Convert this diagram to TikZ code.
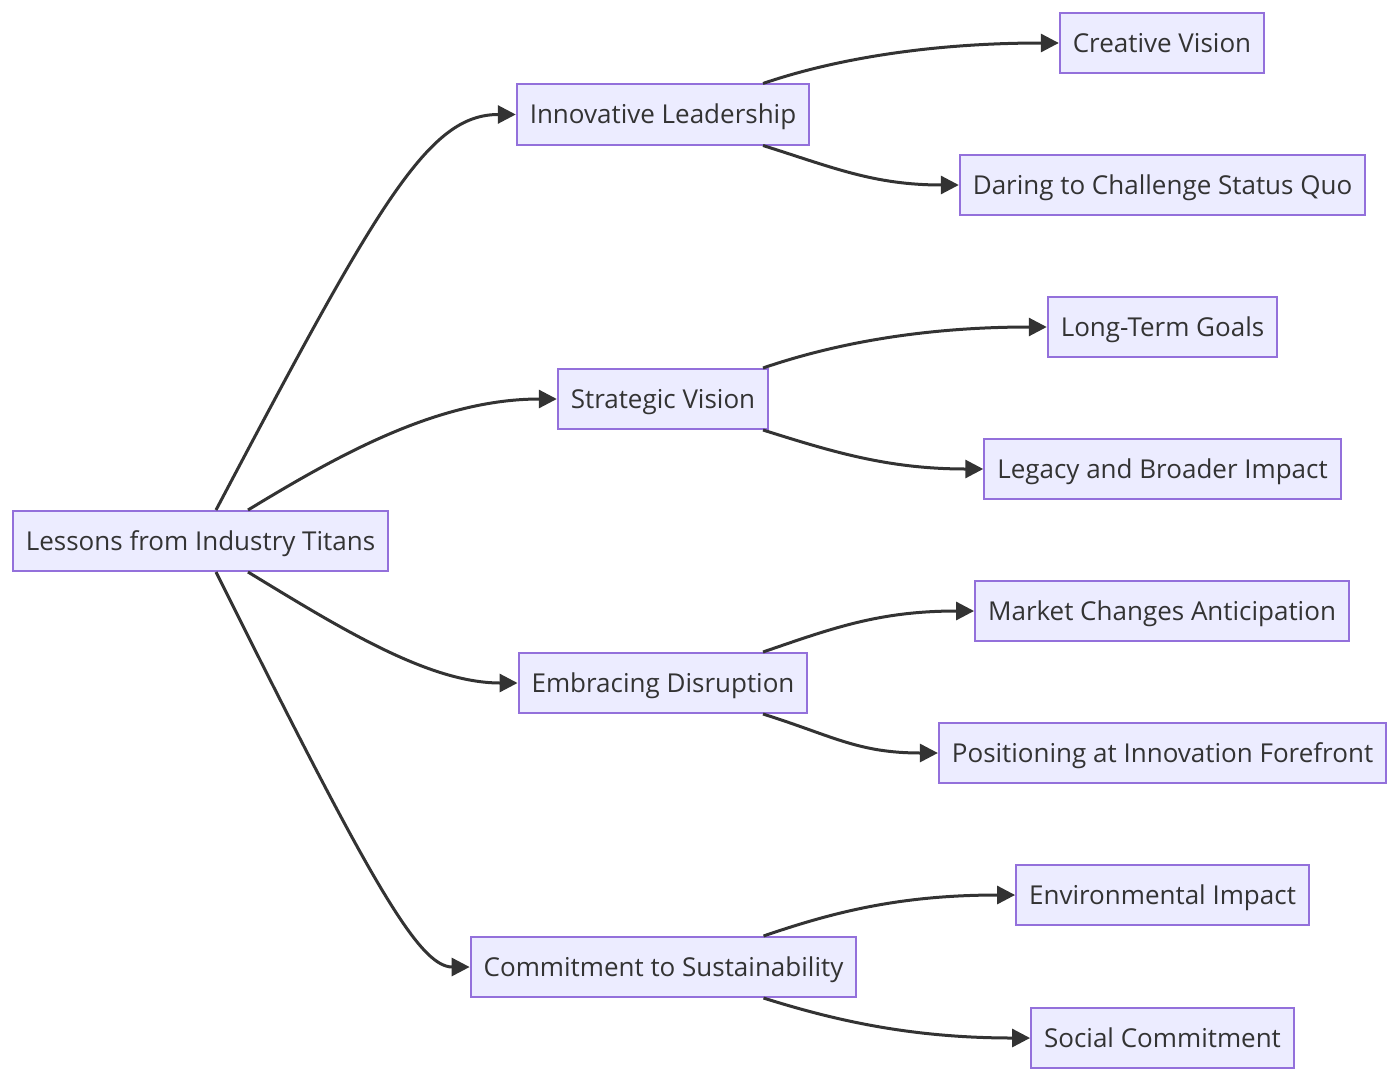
\documentclass[tikz,border=0pt]{standalone}
\usepackage{fontspec}
\setmainfont{Open Sans}
\usetikzlibrary{arrows.meta,positioning,calc}
\definecolor{boxfill}{HTML}{ECECFF}
\definecolor{boxline}{HTML}{9370DB}
\definecolor{inkgray}{HTML}{333333}
\tikzset{
  topic/.style={draw=boxline, fill=boxfill, line width=1pt, text=inkgray,
    minimum height=30pt, inner xsep=6.5pt, text height=9.3pt, text depth=0pt,
    font=\fontsize{13}{15}\selectfont},
  link/.style={draw=inkgray, line width=1.5pt, -{Triangle[length=9pt,width=9pt]}}
}

\begin{document}
\begin{tikzpicture}[x=0.5pt,y=-0.5pt]
    \useasboundingbox (0,0) rectangle (1400,1081);
    % root
    \node[topic] (titans) at (200.5,541) {Lessons from Industry Titans};
    % second level
    \node[topic] (leader)  at (663,114.5) {Innovative Leadership};
    \node[topic] (strat)   at (663,399)   {Strategic Vision};
    \node[topic] (disrupt) at (663,683)   {Embracing Disruption};
    \node[topic] (sustain) at (663.5,967) {Commitment to Sustainability};
    % leaves
    \node[topic] (creative)  at (1162,43)    {Creative Vision};
    \node[topic] (daring)    at (1162.5,185) {Daring to Challenge Status Quo};
    \node[topic] (goals)     at (1162.5,327) {Long-Term Goals};
    \node[topic] (legacy)    at (1162.5,469) {Legacy and Broader Impact};
    \node[topic] (market)    at (1162,611)   {Market Changes Anticipation};
    \node[topic] (forefront) at (1162.5,753) {Positioning at Innovation Forefront};
    \node[topic] (environ)   at (1162.5,895) {Environmental Impact};
    \node[topic] (social)    at (1162.5,1038) {Social Commitment};
    % root links
    \draw[link] ([xshift=7.75pt]titans.north) .. controls +(164,-311) and +(-87,0) .. (leader.west);
    \draw[link] ([xshift=23.75pt]titans.north) .. controls +(92,-56) and +(-118,0) .. (strat.west);
    \draw[link] ([xshift=23.75pt]titans.south) .. controls +(92,56) and +(-89,0) .. (disrupt.west);
    \draw[link] ([xshift=7.75pt]titans.south) .. controls +(154,309) and +(-51,0) .. (sustain.west);
    % leaf links
    \draw[link] ([xshift=50pt]leader.north) .. controls +(70,-24) and +(-130,0) .. (creative.west);
    \draw[link] ([xshift=50pt]leader.south) .. controls +(70,22) and +(-85,0) .. (daring.west);
    \draw[link] ([xshift=50pt]strat.north) .. controls +(70,-24) and +(-125,0) .. (goals.west);
    \draw[link] ([xshift=50pt]strat.south) .. controls +(70,22) and +(-95,0) .. (legacy.west);
    \draw[link] ([xshift=50pt]disrupt.north) .. controls +(70,-24) and +(-95,0) .. (market.west);
    \draw[link] ([xshift=50pt]disrupt.south) .. controls +(70,22) and +(-80,0) .. (forefront.west);
    \draw[link] ([xshift=50pt]sustain.north) .. controls +(70,-24) and +(-115,0) .. (environ.west);
    \draw[link] ([xshift=50pt]sustain.south) .. controls +(70,22) and +(-120,0) .. (social.west);
\end{tikzpicture}
\end{document}
